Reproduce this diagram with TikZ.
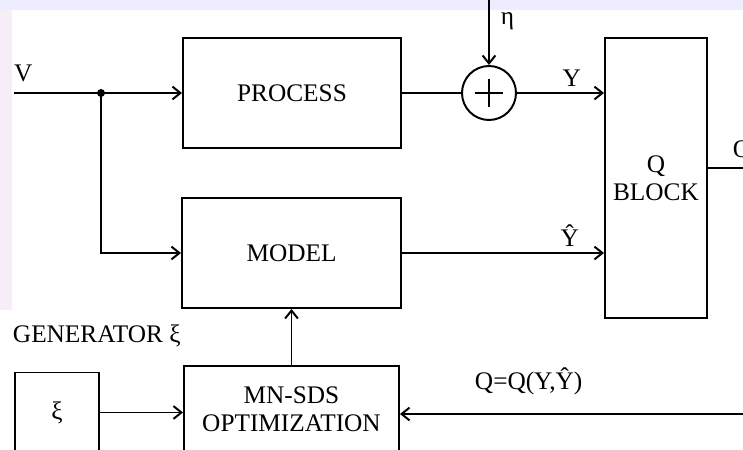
\documentclass[tikz,border=0pt]{standalone}
\usepackage{fontspec}
\setmainfont{Liberation Serif}
\usetikzlibrary{arrows.meta,positioning}

\begin{document}
\begin{tikzpicture}[
    font=\fontsize{18pt}{20pt}\selectfont,
    line width=1.4pt,
    box/.style={draw, align=center, inner sep=0pt},
    sumnode/.style={draw, circle, minimum size=1.35cm, inner sep=0pt},
    arrow/.style={-{Straight Barb[length=2mm, width=3.2mm]}},
    sig/.style={above, inner sep=4pt},
    txt/.style={anchor=base west, inner sep=0pt}
]
\useasboundingbox (0,0) rectangle (18.575,11.25);
\clip (0,0) rectangle (18.575,11.25);
% faint strips of the scan
\fill[blue!7] (0,11.0) rectangle (18.575,11.25);
\fill[violet!7] (0,3.5) rectangle (0.3,11.0);

\node[box, minimum width=5.45cm, minimum height=2.75cm] (process) at (7.3,8.925) {PROCESS};
\node[box, minimum width=5.475cm, minimum height=2.75cm] (model) at (7.2875,4.925) {MODEL};
\node[box, minimum width=2.55cm, minimum height=7cm] (qblock) at (16.4,6.8) {Q\\BLOCK};
\node[sumnode] (sum) at (12.225,8.925) {};
\node[box, minimum width=5.375cm, minimum height=2.15cm] (opt) at (7.2875,1.025) {MN-SDS\\OPTIMIZATION};
\node[box, minimum width=2.1cm, minimum height=2.0cm] (xi) at (1.425,0.9375) {ξ};

\node[txt] (vlabel) at (0.33,9.22) {V};
\node[txt] (etalabel) at (12.5,10.625) {η};
\node[txt] (genlabel) at (0.3,2.675) {GENERATOR ξ};
\node[txt] (qlabel) at (11.85,1.5) {Q=Q(Y,Ŷ)};
\node[txt] (qoutlabel) at (18.3,7.3) {Q};

\coordinate (vin) at (0.35,8.925);
\coordinate (split) at (2.525,8.925);
\coordinate (etain) at (12.225,11.4);
\coordinate (qout) at (18.8,7.05);
\coordinate (fbin) at (18.8,0.9);

% plus sign
\draw ([xshift=-0.36cm]sum.center) -- ([xshift=0.36cm]sum.center);
\draw ([yshift=-0.36cm]sum.center) -- ([yshift=0.36cm]sum.center);

\draw (vin) -- (split);
\draw[arrow] (split) -- (process.west);
\fill (split) circle (0.1);
\draw[arrow] (split) |- (model.west);
\draw (process.east) -- (sum.west);
\draw[arrow] (etain) -- (sum.north);
\draw[arrow] (sum.east) -- node[sig, pos=0.63] {Y} (sum.east -| qblock.west);
\draw[arrow] (model.east) -- node[sig, pos=0.83] {Ŷ} (model.east -| qblock.west);
\draw (qblock.east |- qout) -- (qout);
\draw[arrow] (opt.north) -- (model.south);
\draw[arrow] (xi.east) -- (xi.east -| opt.west);
\draw[arrow] (fbin) -- (fbin -| opt.east);
\end{tikzpicture}
\end{document}
